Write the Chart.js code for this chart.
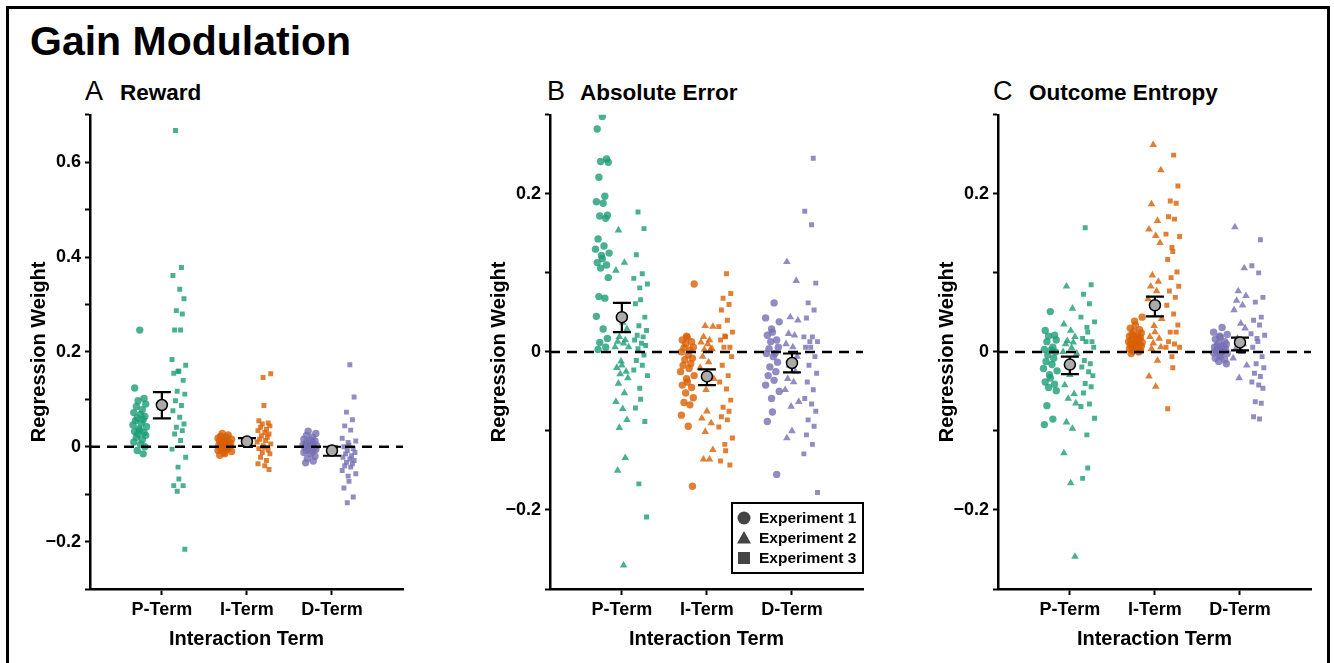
<!DOCTYPE html>
<html lang="en">
<head>
<meta charset="UTF-8">
<title>Gain Modulation</title>
<script src="https://cdn.jsdelivr.net/npm/chart.js"></script>
<style>
  html, body { margin: 0; padding: 0; overflow: hidden; background: #fff; }
  body { font-family: "Liberation Sans", Arial, sans-serif; color: #000; width: 1334px; height: 663px; position: relative; }
  #frame { position: absolute; left: 6px; top: 6px; width: 1318px; height: 700px; border: 3px solid #000; }
  .txt { position: absolute; line-height: 1; white-space: nowrap; }
  .title { font-size: 41px; font-weight: bold; left: 30px; top: 21px; }
  .letter { font-size: 27px; top: 78px; }
  .name { font-size: 22.5px; font-weight: bold; top: 82px; }
  canvas { position: absolute; top: 100px; }
</style>
</head>
<body>
<div id="frame"></div>
<div class="txt title">Gain Modulation</div>
<div class="txt letter" style="left:85px">A</div>
<div class="txt name" style="left:120px">Reward</div>
<div class="txt letter" style="left:547px">B</div>
<div class="txt name" style="left:580px">Absolute Error</div>
<div class="txt letter" style="left:993px">C</div>
<div class="txt name" style="left:1029px">Outcome Entropy</div>
<canvas id="chartA" width="400" height="563" style="left:20px"></canvas>
<canvas id="chartB" width="400" height="563" style="left:480px"></canvas>
<canvas id="chartC" width="400" height="563" style="left:928px"></canvas>
<script>
// categories and legend entries
const categories = ['P-Term', 'I-Term', 'D-Term'];
const experiments = ['Experiment 1', 'Experiment 2', 'Experiment 3'];

// A: Reward (no experiment 2)
const rewardP1 = [0.246, 0.124, 0.102, 0.097, 0.09, 0.085, 0.078, 0.072, 0.068, 0.064, 0.06, 0.057, 0.055, 0.05, 0.046, 0.042, 0.038, 0.035, 0.032, 0.03, 0.027, 0.024, 0.02, 0.015, 0.01, 0.005, 0.0, -0.008, -0.015];
const rewardP3 = [0.667, 0.378, 0.361, 0.332, 0.312, 0.287, 0.28, 0.246, 0.246, 0.184, 0.172, 0.159, 0.159, 0.155, 0.14, 0.117, 0.111, 0.097, 0.087, 0.076, 0.062, 0.048, 0.041, 0.034, 0.027, 0.013, -0.005, -0.022, -0.043, -0.068, -0.082, -0.082, -0.094, -0.216];
const rewardI1 = [0.028, 0.025, 0.022, 0.02, 0.018, 0.016, 0.015, 0.012, 0.012, 0.01, 0.008, 0.007, 0.006, 0.005, 0.003, 0.002, 0.0, -0.002, -0.003, -0.004, -0.006, -0.008, -0.01, -0.012, -0.015, -0.018];
const rewardI3 = [0.154, 0.146, 0.087, 0.055, 0.05, 0.048, 0.044, 0.041, 0.037, 0.034, 0.03, 0.027, 0.023, 0.02, 0.016, 0.013, 0.01, 0.006, 0.002, -0.001, -0.004, -0.007, -0.012, -0.015, -0.022, -0.029, -0.036, -0.04, -0.048];
const rewardD1 = [0.033, 0.028, 0.024, 0.02, 0.016, 0.014, 0.012, 0.01, 0.008, 0.006, 0.005, 0.004, 0.002, 0.001, 0.0, -0.001, -0.002, -0.004, -0.006, -0.008, -0.01, -0.012, -0.015, -0.02, -0.025, -0.03, -0.034];
const rewardD3 = [0.173, 0.105, 0.073, 0.057, 0.044, 0.035, 0.018, 0.012, 0.009, 0.003, 0.0, -0.004, -0.008, -0.012, -0.015, -0.019, -0.022, -0.026, -0.029, -0.033, -0.036, -0.04, -0.043, -0.05, -0.057, -0.062, -0.073, -0.087, -0.106, -0.118];
const rewardMean = [0.088, 0.011, -0.008];
const rewardLow = [0.06, 0.002, -0.019];
const rewardHigh = [0.115, 0.018, 0.0];

// B: Absolute Error
const errorP1 = [0.298, 0.282, 0.244, 0.241, 0.24, 0.221, 0.197, 0.19, 0.188, 0.173, 0.172, 0.169, 0.143, 0.134, 0.13, 0.125, 0.122, 0.118, 0.113, 0.11, 0.106, 0.094, 0.07, 0.068, 0.045, 0.029, 0.017, 0.012, 0.006, 0.003];
const errorP2 = [0.154, 0.113, 0.103, 0.037, 0.029, 0.019, 0.015, 0.013, 0.011, 0.006, 0.006, -0.012, -0.017, -0.02, -0.025, -0.028, -0.033, -0.04, -0.052, -0.063, -0.072, -0.086, -0.096, -0.134, -0.15, -0.27];
const errorP3 = [0.177, 0.156, 0.123, 0.099, 0.093, 0.086, 0.081, 0.066, 0.061, 0.044, 0.033, 0.027, 0.021, 0.019, 0.015, 0.011, 0.008, 0.004, -0.004, -0.011, -0.017, -0.023, -0.03, -0.046, -0.06, -0.071, -0.088, -0.167, -0.209];
const errorI1 = [0.086, 0.02, 0.018, 0.015, 0.013, 0.01, 0.006, 0.005, 0.002, 0.0, -0.004, -0.008, -0.01, -0.015, -0.017, -0.021, -0.025, -0.03, -0.034, -0.038, -0.042, -0.045, -0.052, -0.058, -0.064, -0.067, -0.08, -0.094, -0.17];
const errorI2 = [0.033, 0.032, 0.019, 0.015, 0.012, 0.01, 0.004, 0.003, 0.003, -0.006, -0.013, -0.02, -0.034, -0.048, -0.075, -0.084, -0.09, -0.101, -0.124, -0.136, -0.136];
const errorI3 = [0.099, 0.074, 0.068, 0.06, 0.053, 0.04, 0.032, 0.025, 0.02, 0.019, 0.015, 0.006, 0.006, -0.006, -0.017, -0.03, -0.038, -0.047, -0.061, -0.07, -0.075, -0.082, -0.086, -0.095, -0.109, -0.117, -0.125, -0.138, -0.143];
const errorD1 = [0.062, 0.043, 0.038, 0.029, 0.025, 0.021, 0.015, 0.013, 0.006, 0.004, -0.002, -0.002, -0.006, -0.013, -0.019, -0.025, -0.03, -0.036, -0.042, -0.05, -0.059, -0.076, -0.088, -0.155];
const errorD2 = [0.114, 0.09, 0.044, 0.04, 0.023, 0.021, 0.01, 0.006, -0.006, -0.017, -0.025, -0.034, -0.038, -0.048, -0.063, -0.069, -0.1, -0.109];
const errorD3 = [0.245, 0.178, 0.161, 0.087, 0.062, 0.053, 0.043, 0.019, 0.019, 0.013, 0.013, 0.006, 0.006, -0.006, -0.017, -0.027, -0.038, -0.048, -0.059, -0.066, -0.075, -0.086, -0.094, -0.105, -0.117, -0.129, -0.178];
const errorMean = [0.044, -0.031, -0.014];
const errorLow = [0.025, -0.042, -0.026];
const errorHigh = [0.062, -0.022, -0.002];

// C: Outcome Entropy
const entropyP1 = [0.051, 0.027, 0.021, 0.02, 0.015, 0.013, 0.006, 0.003, 0.002, 0.0, -0.004, -0.008, -0.012, -0.016, -0.021, -0.024, -0.029, -0.033, -0.038, -0.041, -0.045, -0.049, -0.068, -0.085, -0.092];
const entropyP2 = [0.083, 0.055, 0.035, 0.027, 0.019, 0.014, 0.012, 0.01, 0.005, 0.0, -0.002, -0.013, -0.029, -0.042, -0.053, -0.059, -0.065, -0.089, -0.097, -0.128, -0.166, -0.259];
const entropyP3 = [0.157, 0.085, 0.073, 0.061, 0.044, 0.038, 0.031, 0.025, 0.017, 0.013, 0.013, 0.006, -0.011, -0.015, -0.019, -0.025, -0.03, -0.04, -0.044, -0.052, -0.066, -0.069, -0.084, -0.105, -0.147, -0.16];
const entropyI1 = [0.044, 0.039, 0.034, 0.03, 0.028, 0.026, 0.024, 0.022, 0.02, 0.02, 0.019, 0.018, 0.017, 0.016, 0.015, 0.014, 0.013, 0.012, 0.011, 0.01, 0.009, 0.009, 0.008, 0.007, 0.006, 0.005, 0.004, 0.003, 0.002, 0.001, 0.0, -0.002];
const entropyI2 = [0.262, 0.23, 0.187, 0.166, 0.155, 0.147, 0.138, 0.097, 0.089, 0.083, 0.077, 0.067, 0.042, 0.033, 0.025, 0.019, 0.017, 0.011, 0.006, 0.004, -0.011, -0.031, -0.044];
const entropyI3 = [0.249, 0.21, 0.191, 0.188, 0.171, 0.168, 0.149, 0.146, 0.132, 0.127, 0.117, 0.101, 0.094, 0.083, 0.077, 0.069, 0.059, 0.048, 0.034, 0.025, 0.025, 0.013, 0.01, 0.006, 0.006, -0.006, -0.02, -0.072];
const entropyD1 = [0.031, 0.025, 0.022, 0.02, 0.019, 0.016, 0.013, 0.011, 0.01, 0.008, 0.007, 0.006, 0.005, 0.004, 0.003, 0.002, 0.001, 0.0, -0.001, -0.002, -0.004, -0.006, -0.008, -0.01, -0.012, -0.015];
const entropyD2 = [0.158, 0.106, 0.077, 0.071, 0.065, 0.059, 0.053, 0.036, 0.03, 0.017, 0.01, 0.004, 0.0, -0.008, -0.017, -0.033];
const entropyD3 = [0.142, 0.109, 0.1, 0.069, 0.063, 0.044, 0.04, 0.034, 0.023, 0.021, 0.017, 0.013, 0.006, -0.006, -0.015, -0.02, -0.027, -0.031, -0.038, -0.042, -0.046, -0.063, -0.065, -0.082, -0.085];
const entropyMean = [-0.016, 0.059, 0.012];
const entropyLow = [-0.028, 0.045, 0.002];
const entropyHigh = [-0.006, 0.07, 0.018];

// horizontal spread of the strips, in category units
const JITTER = [0.00, -0.06, 0.05, -0.02, 0.07, -0.04, 0.03, -0.07, 0.01, 0.06, -0.03, 0.04, -0.05, 0.02, -0.08, 0.08, -0.01];

const TERM_COLORS = ['rgba(27,158,119,0.8)', 'rgba(217,95,2,0.8)', 'rgba(117,112,179,0.8)'];
const SHAPES = ['circle', 'triangle', 'rect'];
const RADII = [3.7, 4.4, 3.5];
const X_MIN = 0.155, X_MAX = 3.835;

Chart.defaults.font.family = '"Liberation Sans", Arial, sans-serif';
Chart.defaults.color = '#000';

function stripDataset(values, cat, exp, offsets, k) {
    return {
        type: 'scatter',
        data: values.map((v, i) => ({ x: cat + 1 + offsets[exp] + JITTER[(i + k * 5) % JITTER.length], y: v })),
        pointStyle: SHAPES[exp],
        pointRadius: RADII[exp],
        pointHoverRadius: RADII[exp],
        pointBackgroundColor: TERM_COLORS[cat],
        backgroundColor: TERM_COLORS[cat],
        pointBorderWidth: 0,
        order: 2
    };
}

function yTick(v) {
    const k = Math.round(v * 10);
    if (k % 2 !== 0) return '';
    if (k === 0) return '0';
    return (k < 0 ? '\u2212' : '') + (Math.abs(k) / 10).toFixed(1);
}

// mean and error bar per term
function meanPlugin(mean, low, high) {
    return {
        id: 'meanBars',
        afterDatasetsDraw(chart) {
            const { ctx, scales: { x, y } } = chart;
            ctx.save();
            mean.forEach((m, i) => {
                const px = x.getPixelForValue(i + 1);
                const pl = y.getPixelForValue(low[i]);
                const ph = y.getPixelForValue(high[i]);
                const pm = y.getPixelForValue(m);
                ctx.strokeStyle = '#000';
                ctx.lineWidth = 2.2;
                ctx.beginPath();
                ctx.moveTo(px, ph); ctx.lineTo(px, pl);
                ctx.moveTo(px - 9, ph); ctx.lineTo(px + 9, ph);
                ctx.moveTo(px - 9, pl); ctx.lineTo(px + 9, pl);
                ctx.stroke();
                ctx.beginPath();
                ctx.arc(px, pm, 5.5, 0, Math.PI * 2);
                ctx.fillStyle = '#ababab';
                ctx.fill();
                ctx.lineWidth = 1.5;
                ctx.stroke();
            });
            ctx.restore();
        }
    };
}

// legend box inside panel B
const legendPlugin = {
    id: 'boxLegend',
    afterDraw(chart) {
        const { ctx, chartArea } = chart;
        const w = 131, h = 70;
        const left = chartArea.right - w, top = chartArea.bottom - 16 - h;
        ctx.save();
        ctx.fillStyle = '#fff';
        ctx.fillRect(left, top, w, h);
        ctx.strokeStyle = '#000';
        ctx.lineWidth = 2;
        ctx.strokeRect(left, top, w, h);
        ctx.font = 'bold 15.5px "Liberation Sans", Arial, sans-serif';
        ctx.textBaseline = 'middle';
        experiments.forEach((name, i) => {
            const cy = top + 15 + i * 20, cx = left + 12;
            ctx.fillStyle = '#444';
            ctx.beginPath();
            if (i === 0) ctx.arc(cx, cy, 6.5, 0, Math.PI * 2);
            else if (i === 1) { ctx.moveTo(cx, cy - 7); ctx.lineTo(cx + 7, cy + 5.5); ctx.lineTo(cx - 7, cy + 5.5); ctx.closePath(); }
            else ctx.rect(cx - 6, cy - 6, 12, 12);
            ctx.fill();
            ctx.fillStyle = '#000';
            ctx.fillText(name, left + 27, cy + 1);
        });
        ctx.restore();
    }
};

function makePanel(id, groups, offsets, yMin, yMax, mean, low, high, extra) {
    const datasets = [{
        type: 'line',
        data: [{ x: X_MIN, y: 0 }, { x: X_MAX, y: 0 }],
        borderColor: '#000',
        borderWidth: 2.5,
        borderDash: [10, 7],
        pointRadius: 0,
        showLine: true,
        order: 1
    }];
    groups.forEach((g, k) => datasets.push(stripDataset(g[0], g[1], g[2], offsets, k)));
    const plugins = [meanPlugin(mean, low, high)];
    if (extra) plugins.push(extra);
    return new Chart(document.getElementById(id), {
        type: 'scatter',
        data: { datasets },
        plugins,
        options: {
            responsive: false,
            animation: false,
            layout: { padding: { top: 12, right: 17, left: 0, bottom: 0 } },
            plugins: { legend: { display: false }, tooltip: { enabled: false } },
            scales: {
                x: {
                    type: 'linear',
                    min: X_MIN,
                    max: X_MAX,
                    afterBuildTicks: s => { s.ticks = [1, 2, 3].map(v => ({ value: v })); },
                    afterFit: s => { s.height = 74; },
                    ticks: { callback: v => categories[v - 1], font: { size: 18, weight: 'bold' }, color: '#000', padding: 4, maxRotation: 0, autoSkip: false },
                    grid: { drawOnChartArea: false, drawTicks: true, tickLength: 6, tickWidth: 2, tickColor: '#000' },
                    border: { display: true, color: '#000', width: 2.5 },
                    title: { display: true, text: 'Interaction Term', font: { size: 20, weight: 'bold' }, color: '#000', padding: { top: 0, bottom: 12 } }
                },
                y: {
                    min: yMin,
                    max: yMax,
                    afterFit: s => { s.width = 70; },
                    ticks: { stepSize: 0.1, callback: yTick, font: { size: 18, weight: 'bold' }, color: '#000', padding: 4, autoSkip: false },
                    grid: { drawOnChartArea: false, drawTicks: true, tickLength: 5, tickWidth: 2, tickColor: '#000' },
                    border: { display: true, color: '#000', width: 2.5 },
                    title: { display: true, text: 'Regression Weight', font: { size: 20, weight: 'bold' }, color: '#000', padding: { top: 7, bottom: 0 } }
                }
            }
        }
    });
}

makePanel('chartA', [
    [rewardP1, 0, 0], [rewardP3, 0, 2],
    [rewardI1, 1, 0], [rewardI3, 1, 2],
    [rewardD1, 2, 0], [rewardD3, 2, 2]
], [-0.26, 0, 0.2], -0.3, 0.7, rewardMean, rewardLow, rewardHigh);

makePanel('chartB', [
    [errorP1, 0, 0], [errorP2, 0, 1], [errorP3, 0, 2],
    [errorI1, 1, 0], [errorI2, 1, 1], [errorI3, 1, 2],
    [errorD1, 2, 0], [errorD2, 2, 1], [errorD3, 2, 2]
], [-0.23, 0, 0.22], -0.3, 0.3, errorMean, errorLow, errorHigh, legendPlugin);

makePanel('chartC', [
    [entropyP1, 0, 0], [entropyP2, 0, 1], [entropyP3, 0, 2],
    [entropyI1, 1, 0], [entropyI2, 1, 1], [entropyI3, 1, 2],
    [entropyD1, 2, 0], [entropyD2, 2, 1], [entropyD3, 2, 2]
], [-0.23, 0, 0.21], -0.3, 0.3, entropyMean, entropyLow, entropyHigh);
</script>
</body>
</html>
